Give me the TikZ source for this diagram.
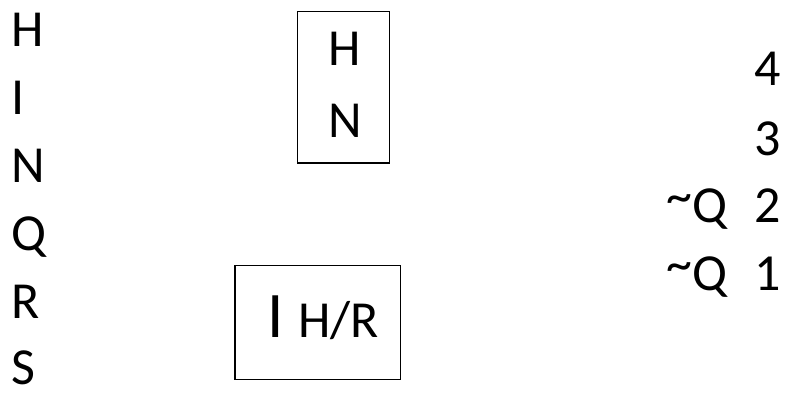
\documentclass[tikz,border=0pt]{standalone}
\usepackage{fontspec}
\setmainfont{Carlito}
\begin{document}
\begin{tikzpicture}[x=1pt,y=-1pt,
  txt/.style={inner sep=0pt,outer sep=0pt,font=\fontsize{52}{62}\selectfont},
  big/.style={inner sep=0pt,outer sep=0pt,font=\fontsize{65}{78}\selectfont},
  frame/.style={draw=black,line width=1.4pt}]
\useasboundingbox (0,0) rectangle (785,392);
% left column
\node[txt,anchor=base west] (lh) at (12,46.5) {H};
\node[txt,anchor=base west] (li) at (12,114.5) {I};
\node[txt,anchor=base west] (ln) at (12,182.5) {N};
\node[txt,anchor=base west] (lq) at (12,250.5) {Q};
\node[txt,anchor=base west] (lr) at (12,318.5) {R};
\node[txt,anchor=base west] (ls) at (12,384) {S};
% box 1
\node[frame,inner sep=0pt,minimum width=92pt,minimum height=151.5pt] (b1) at (343.3,87.3) {};
\node[txt,anchor=base west] (bh) at (328.5,65) {H};
\node[txt,anchor=base west] (bn) at (328.5,137) {N};
% box 2
\node[frame,inner sep=0pt,minimum width=165.7pt,minimum height=113.6pt] (b2) at (317.9,322.5) {};
\node[big,anchor=base west] (bi) at (267,337) {I};
\node[txt,anchor=base west] (bhr) at (298.5,337) {H/R};
% right column
\node[txt,anchor=base east] (r4) at (781,85) {4};
\node[txt,anchor=base east] (r3) at (781,155) {3};
\node[txt,anchor=base east] (r2) at (781,222) {2};
\node[txt,anchor=base east] (r1) at (781,290) {1};
\node[txt,anchor=base east] (q2) at (727,222) {\raisebox{9pt}{\textasciitilde}Q};
\node[txt,anchor=base east] (q1) at (727,290) {\raisebox{9pt}{\textasciitilde}Q};
\end{tikzpicture}
\end{document}
